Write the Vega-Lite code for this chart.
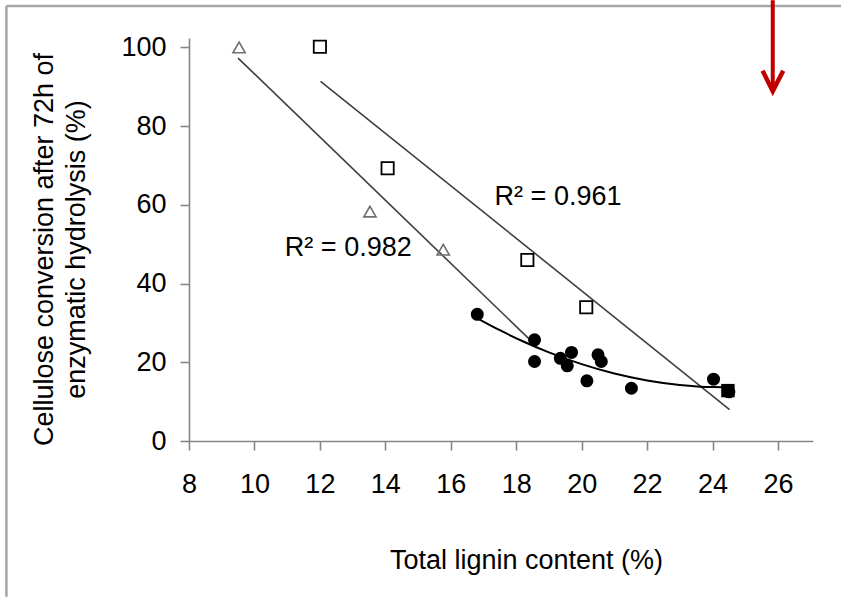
{
  "$schema": "https://vega.github.io/schema/vega-lite/v6.json",
  "width": 624,
  "height": 403,
  "autosize": {"type": "none"},
  "padding": {"left": 189, "top": 38, "right": 28, "bottom": 156},
  "background": "white",
  "config": {"view": {"stroke": null}, "font": "Liberation Sans"},
  "datasets": {
    "samples": [
      {"lignin": 9.53, "conversion": 100.0, "series": "triangle"},
      {"lignin": 13.53, "conversion": 58.3, "series": "triangle"},
      {"lignin": 15.77, "conversion": 48.6, "series": "triangle"},
      {"lignin": 12.0, "conversion": 100.2, "series": "square"},
      {"lignin": 14.07, "conversion": 69.3, "series": "square"},
      {"lignin": 18.34, "conversion": 46.0, "series": "square"},
      {"lignin": 20.14, "conversion": 34.0, "series": "square"},
      {"lignin": 16.81, "conversion": 32.2, "series": "circle"},
      {"lignin": 18.56, "conversion": 25.7, "series": "circle"},
      {"lignin": 18.56, "conversion": 20.2, "series": "circle"},
      {"lignin": 19.35, "conversion": 21.0, "series": "circle"},
      {"lignin": 19.69, "conversion": 22.5, "series": "circle"},
      {"lignin": 19.56, "conversion": 19.1, "series": "circle"},
      {"lignin": 20.5, "conversion": 21.9, "series": "circle"},
      {"lignin": 20.6, "conversion": 20.2, "series": "circle"},
      {"lignin": 20.16, "conversion": 15.3, "series": "circle"},
      {"lignin": 21.52, "conversion": 13.4, "series": "circle"},
      {"lignin": 24.03, "conversion": 15.7, "series": "circle"},
      {"lignin": 24.5, "conversion": 12.5, "series": "circle"},
      {"lignin": 24.47, "conversion": 12.8, "series": "untreated"}
    ],
    "fits": [
      {"lignin": 9.5, "conversion": 97.3, "fit": "triangle"},
      {"lignin": 18.56, "conversion": 24.6, "fit": "triangle"},
      {"lignin": 12.02, "conversion": 91.4, "fit": "square"},
      {"lignin": 24.52, "conversion": 8.0, "fit": "square"}
    ],
    "curve": [
      {"lignin": 16.8, "conversion": 31.25},
      {"lignin": 17.5, "conversion": 28.15},
      {"lignin": 18.2, "conversion": 25.35},
      {"lignin": 19.0, "conversion": 22.52},
      {"lignin": 20.0, "conversion": 19.53},
      {"lignin": 21.0, "conversion": 17.15},
      {"lignin": 22.0, "conversion": 15.39},
      {"lignin": 23.0, "conversion": 14.24},
      {"lignin": 24.0, "conversion": 13.69},
      {"lignin": 24.5, "conversion": 13.65}
    ],
    "labels": [
      {"lignin": 17.34, "conversion": 60.0, "label": "R² = 0.961"},
      {"lignin": 10.93, "conversion": 46.9, "label": "R² = 0.982"}
    ],
    "frame": [
      {"lignin": 2.42, "conversion": 110.5, "lignin2": 27.93, "conversion2": 110.5},
      {"lignin": 2.42, "conversion": 110.5, "lignin2": 2.42, "conversion2": -39.6}
    ],
    "shaft": [
      {"lignin": 25.84, "conversion": 112.0, "lignin2": 25.84, "conversion2": 89.6}
    ],
    "arrowhead": [
      {"lignin": 25.53, "conversion": 94.1, "order": 1},
      {"lignin": 25.84, "conversion": 88.9, "order": 2},
      {"lignin": 26.16, "conversion": 94.1, "order": 3}
    ]
  },
  "encoding": {
    "x": {
      "field": "lignin",
      "type": "quantitative",
      "scale": {"domain": [8, 27.07], "nice": false, "zero": false},
      "axis": {
        "values": [8, 10, 12, 14, 16, 18, 20, 22, 24, 26],
        "title": "Total lignin content (%)",
        "grid": false,
        "domainColor": "#868686",
        "domainWidth": 1.6,
        "tickColor": "#868686",
        "tickWidth": 1.6,
        "tickSize": 9,
        "labelFont": "Liberation Sans",
        "labelFontSize": 27,
        "labelColor": "#000000",
        "labelPadding": 21,
        "labelFlush": false,
        "labelOverlap": false,
        "titleFont": "Liberation Sans",
        "titleFontSize": 27,
        "titleFontWeight": "normal",
        "titleColor": "#000000",
        "titleX": 337,
        "titleY": 106,
        "titleAlign": "center",
        "titleBaseline": "top"
      }
    },
    "y": {
      "field": "conversion",
      "type": "quantitative",
      "scale": {"domain": [0, 102.4], "nice": false, "zero": false},
      "axis": {
        "values": [0, 20, 40, 60, 80, 100],
        "title": ["Cellulose conversion after 72h of", "enzymatic hydrolysis (%)"],
        "grid": false,
        "domainColor": "#868686",
        "domainWidth": 1.6,
        "tickColor": "#868686",
        "tickWidth": 1.6,
        "tickSize": 9,
        "labelFont": "Liberation Sans",
        "labelFontSize": 27,
        "labelColor": "#000000",
        "labelPadding": 14,
        "labelFlush": false,
        "labelOverlap": false,
        "titleFont": "Liberation Sans",
        "titleFontSize": 27,
        "titleFontWeight": "normal",
        "titleColor": "#000000",
        "titleAngle": 270,
        "titleAlign": "center",
        "titleBaseline": "bottom",
        "titleLineHeight": 32,
        "titleX": -131,
        "titleY": 211
      }
    }
  },
  "layer": [
    {
      "data": {"name": "frame"},
      "mark": {"type": "rule", "color": "#a6a6a6", "strokeWidth": 2.5},
      "encoding": {
        "x2": {"field": "lignin2"},
        "y2": {"field": "conversion2"}
      }
    },
    {
      "data": {"name": "shaft"},
      "mark": {"type": "rule", "color": "#c00000", "strokeWidth": 4},
      "encoding": {
        "x2": {"field": "lignin2"},
        "y2": {"field": "conversion2"}
      }
    },
    {
      "data": {"name": "arrowhead"},
      "mark": {"type": "line", "color": "#c00000", "strokeWidth": 4.5, "strokeJoin": "miter"},
      "encoding": {
        "order": {"field": "order"}
      }
    },
    {
      "data": {"name": "fits"},
      "mark": {"type": "line", "color": "#3f3f3f", "strokeWidth": 1.6},
      "encoding": {
        "detail": {"field": "fit"}
      }
    },
    {
      "data": {"name": "curve"},
      "mark": {"type": "line", "color": "#000000", "strokeWidth": 2, "interpolate": "monotone"},
      "encoding": {}
    },
    {
      "data": {"name": "samples"},
      "transform": [{"filter": "datum.series === 'triangle'"}],
      "mark": {"type": "point", "shape": "triangle-up", "filled": false, "color": "#6f6f6f", "strokeWidth": 1.6, "size": 150, "opacity": 1}
    },
    {
      "data": {"name": "samples"},
      "transform": [{"filter": "datum.series === 'square'"}],
      "mark": {"type": "point", "shape": "square", "filled": false, "color": "#000000", "strokeWidth": 1.8, "size": 150, "opacity": 1}
    },
    {
      "data": {"name": "samples"},
      "transform": [{"filter": "datum.series === 'circle'"}],
      "mark": {"type": "point", "shape": "circle", "filled": true, "color": "#000000", "size": 170, "opacity": 1}
    },
    {
      "data": {"name": "samples"},
      "transform": [{"filter": "datum.series === 'untreated'"}],
      "mark": {"type": "point", "shape": "square", "filled": true, "color": "#000000", "size": 180, "opacity": 1}
    },
    {
      "data": {"name": "labels"},
      "mark": {"type": "text", "align": "left", "baseline": "alphabetic", "font": "Liberation Sans", "fontSize": 27, "color": "#000000"},
      "encoding": {
        "text": {"field": "label"}
      }
    }
  ]
}
